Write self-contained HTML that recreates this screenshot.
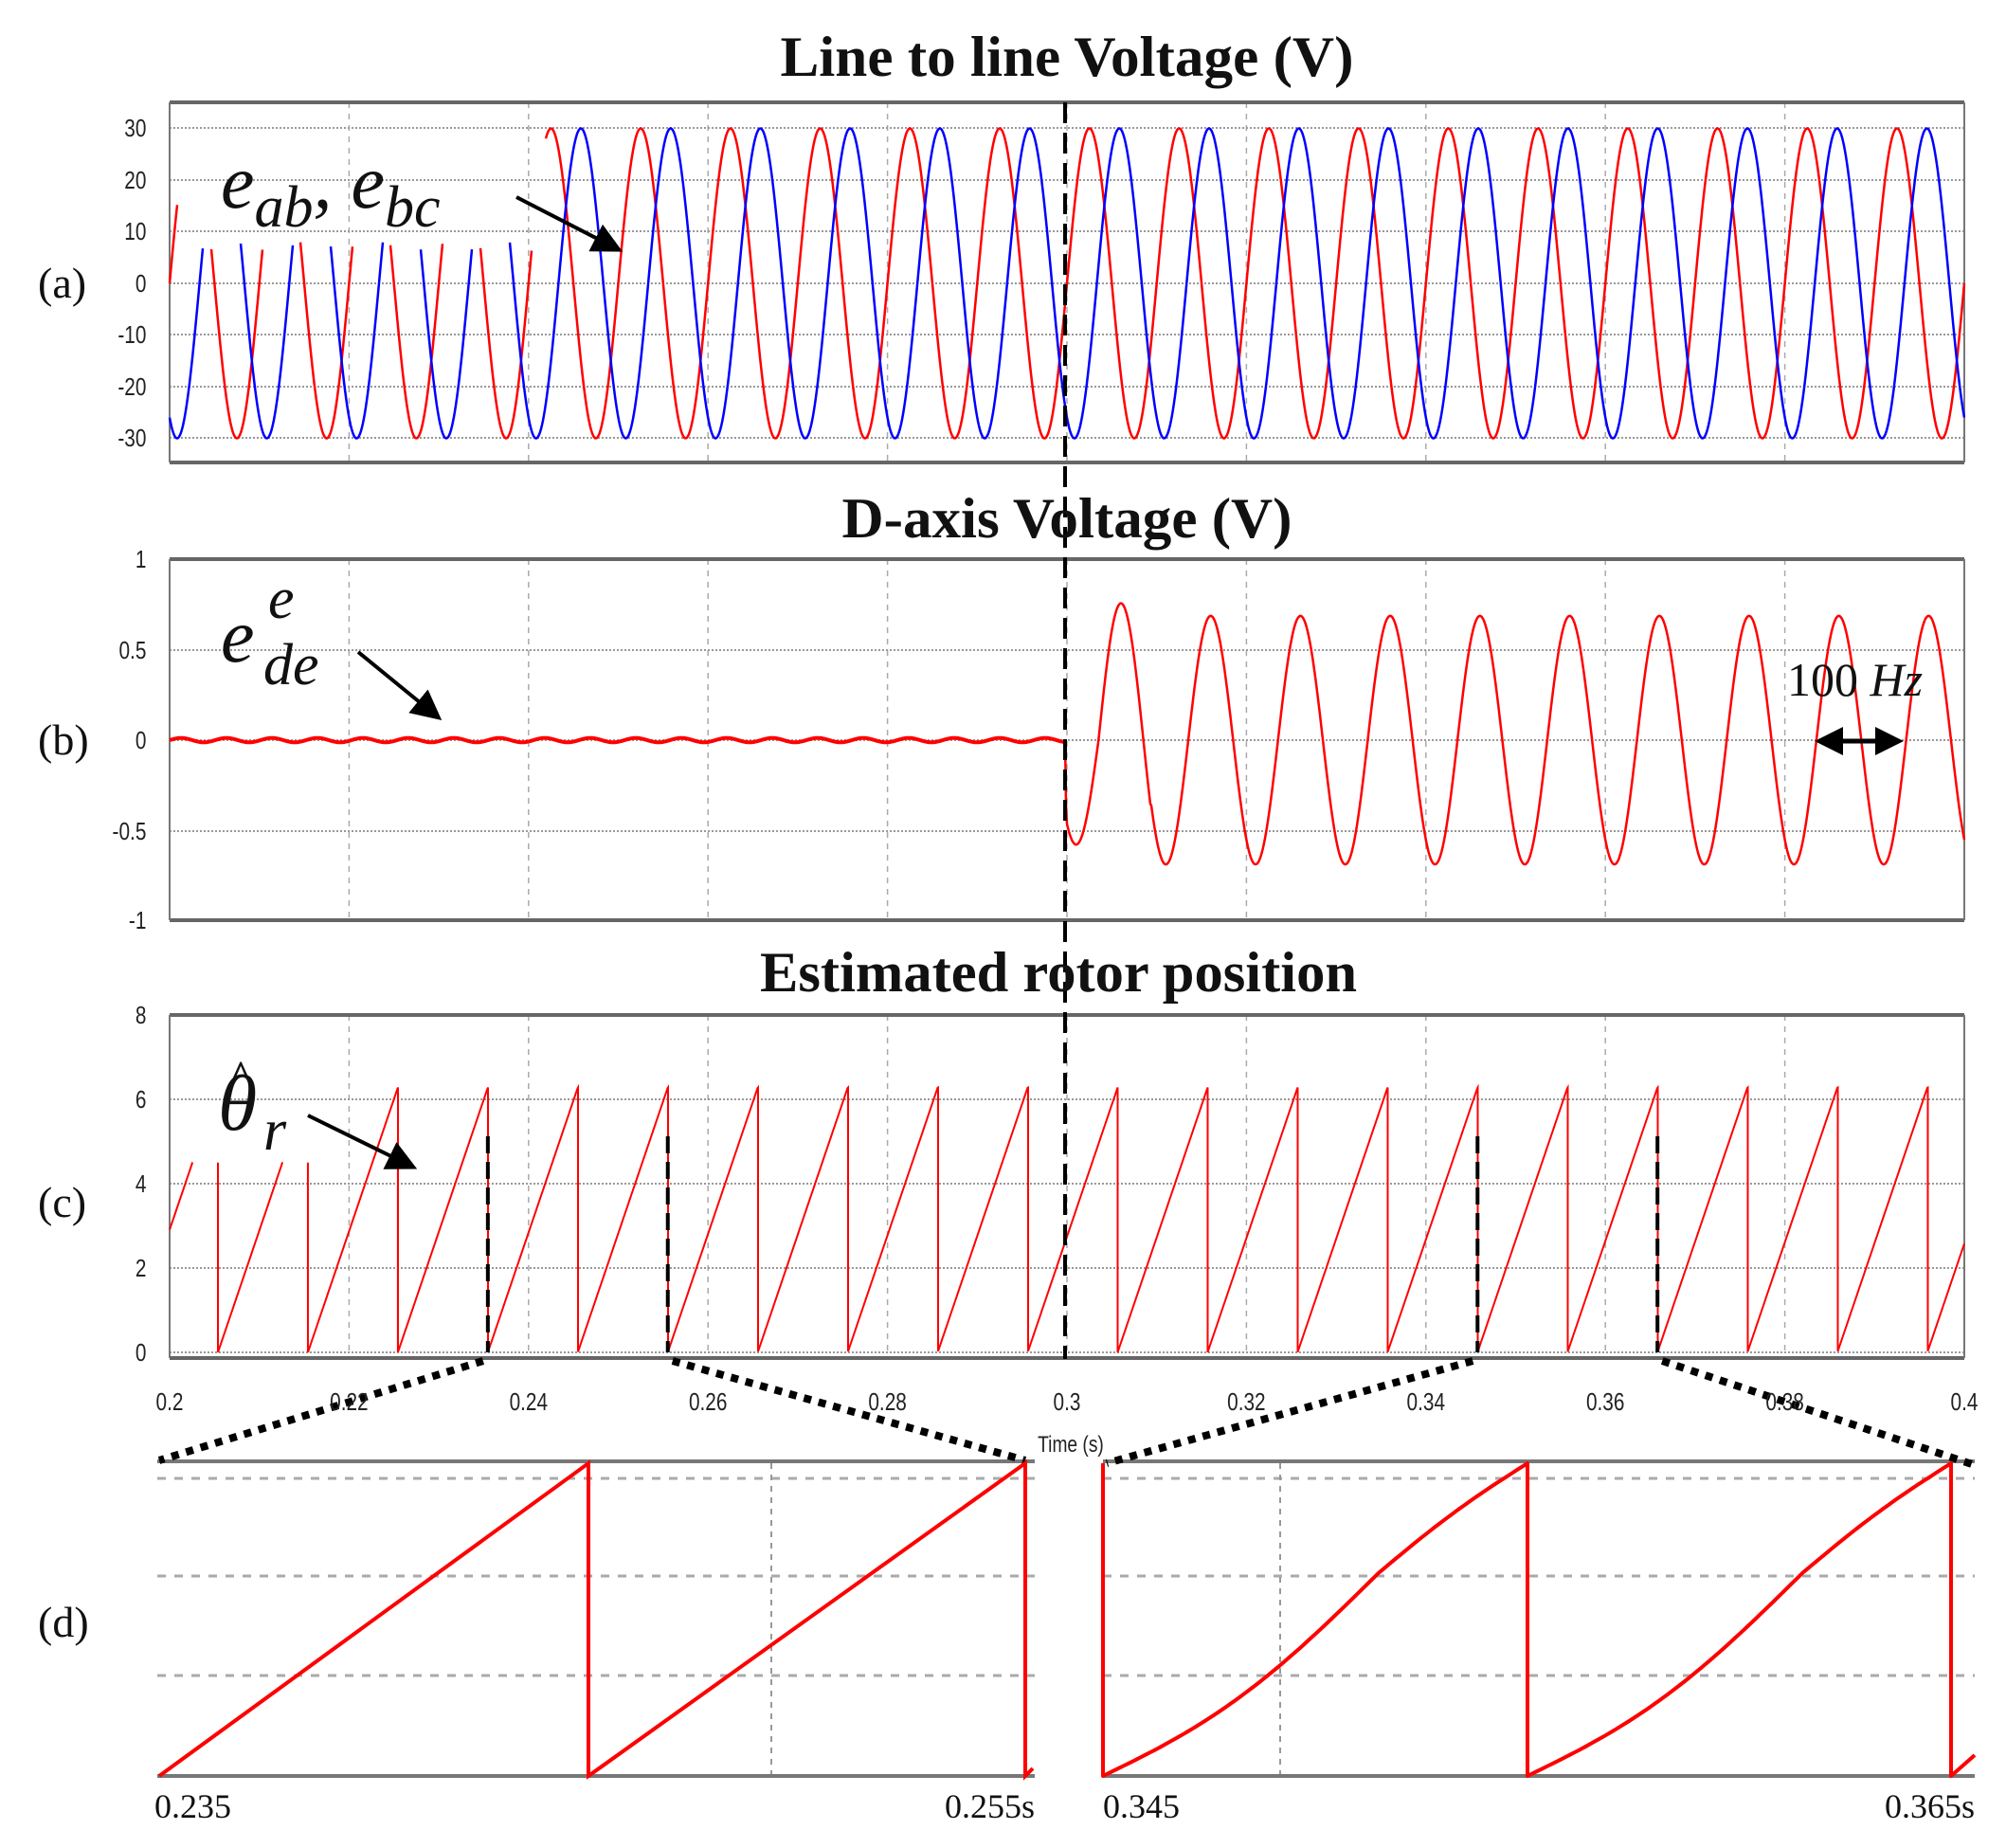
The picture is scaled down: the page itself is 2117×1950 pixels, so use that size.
<!DOCTYPE html>
<html><head><meta charset="utf-8">
<style>
html,body{margin:0;padding:0;background:#fff;}
svg{display:block;}
.tk{font-family:"Liberation Sans",sans-serif;font-size:26px;fill:#222;}
.ttl{font-family:"Liberation Serif",serif;font-weight:bold;font-size:60px;fill:#111;}
.lab{font-family:"Liberation Serif",serif;font-size:46px;fill:#111;}
.mth{font-family:"Liberation Serif",serif;font-style:italic;fill:#111;}
.dl{font-family:"Liberation Serif",serif;font-size:36px;fill:#111;}
</style></head>
<body>
<svg id="s" width="2117" height="1950" viewBox="0 0 2117 1950" xmlns="http://www.w3.org/2000/svg">
<defs>
<marker id="ah" markerWidth="8" markerHeight="8" refX="6" refY="4" orient="auto" markerUnits="strokeWidth"><path d="M0,0 L8,4 L0,8 z" fill="#000"/></marker>
<marker id="ah2" markerWidth="6" markerHeight="6" refX="5" refY="3" orient="auto-start-reverse" markerUnits="strokeWidth"><path d="M0,0 L6,3 L0,6 z" fill="#000"/></marker>
</defs>
<g id="grid"></g>
<g id="series"></g>
<text class="ttl" x="1126" y="80" text-anchor="middle" textLength="605" lengthAdjust="spacingAndGlyphs">Line to line Voltage (V)</text>
<text class="ttl" x="1126" y="567" text-anchor="middle" textLength="475" lengthAdjust="spacingAndGlyphs">D-axis Voltage (V)</text>
<text class="ttl" x="1117" y="1046" text-anchor="middle" textLength="630" lengthAdjust="spacingAndGlyphs">Estimated rotor position</text>
<text class="lab" x="40" y="314">(a)</text>
<text class="lab" x="40" y="796">(b)</text>
<text class="lab" x="40" y="1284">(c)</text>
<text class="lab" x="40" y="1727">(d)</text>
<g class="tk" text-anchor="end" transform="scale(0.8,1)">
<text x="193" y="144">30</text><text x="193" y="199">20</text><text x="193" y="253">10</text><text x="193" y="308">0</text>
<text x="193" y="362">-10</text><text x="193" y="417">-20</text><text x="193" y="471">-30</text>
<text x="193" y="599">1</text><text x="193" y="695">0.5</text><text x="193" y="790">0</text><text x="193" y="886">-0.5</text><text x="193" y="980">-1</text>
<text x="193" y="1080">8</text><text x="193" y="1169">6</text><text x="193" y="1258">4</text><text x="193" y="1347">2</text><text x="193" y="1436">0</text>
</g>
<g class="tk" text-anchor="middle" id="xt"></g>
<text class="tk" x="1130" y="1532" text-anchor="middle" style="font-size:24px" transform="translate(1130,0) scale(0.8,1) translate(-1130,0)">Time (s)</text>
<text class="mth" x="233" y="219" style="font-size:80px">e<tspan dy="20" style="font-size:62px">ab</tspan><tspan dy="-20" style="font-size:80px">, e</tspan><tspan dy="20" style="font-size:62px">bc</tspan></text>
<line x1="545" y1="208" x2="650" y2="262" stroke="#000" stroke-width="4" marker-end="url(#ah)"/>
<text class="mth" x="233" y="698" style="font-size:80px">e</text>
<text class="mth" x="283" y="652" style="font-size:62px">e</text>
<text class="mth" x="278" y="722" style="font-size:62px">de</text>
<line x1="378" y1="688" x2="460" y2="755" stroke="#000" stroke-width="4" marker-end="url(#ah)"/>
<text class="mth" x="230" y="1192" style="font-size:84px">θ</text>
<text x="240" y="1160" style="font-family:'Liberation Serif',serif;font-size:60px;fill:#111">^</text>
<text class="mth" x="278" y="1213" style="font-size:62px">r</text>
<line x1="325" y1="1177" x2="433" y2="1230" stroke="#000" stroke-width="4" marker-end="url(#ah)"/>
<text x="1886" y="734" style="font-family:'Liberation Serif',serif;font-size:50px;fill:#111">100 <tspan font-style="italic">Hz</tspan></text>
<line x1="1920" y1="782" x2="2004" y2="782" stroke="#000" stroke-width="5" marker-start="url(#ah2)" marker-end="url(#ah2)"/>
<text class="dl" x="163" y="1918">0.235</text>
<text class="dl" x="1092" y="1918" text-anchor="end">0.255s</text>
<text class="dl" x="1164" y="1918">0.345</text>
<text class="dl" x="2084" y="1918" text-anchor="end">0.365s</text>
</svg>
<script>
var NS="http://www.w3.org/2000/svg";
function el(p,t,a){var e=document.createElementNS(NS,t);for(var k in a)e.setAttribute(k,a[k]);p.appendChild(e);return e;}
var G=document.getElementById('grid'),S=document.getElementById('series'),XT=document.getElementById('xt');
var L=179,R=2073,dx=189.4;
function panel(top,bot,hy){
  for(var i=1;i<10;i++){var x=L+i*dx;el(G,'line',{x1:x,y1:top,x2:x,y2:bot,stroke:'#aaa','stroke-width':1.5,'stroke-dasharray':'6,6'});}
  hy.forEach(function(y){el(G,'line',{x1:L,y1:y,x2:R,y2:y,stroke:'#999','stroke-width':2,'stroke-dasharray':'2,2'});});
  el(G,'line',{x1:L,y1:top,x2:R,y2:top,stroke:'#666','stroke-width':4});
  el(G,'line',{x1:L,y1:bot,x2:R,y2:bot,stroke:'#666','stroke-width':4});
  el(G,'line',{x1:L,y1:top,x2:L,y2:bot,stroke:'#777','stroke-width':2});
  el(G,'line',{x1:R,y1:top,x2:R,y2:bot,stroke:'#777','stroke-width':2});
}
panel(108,488,[135,190,244,299,353,408,462]);
panel(590,971,[686,781,877]);
panel(1071,1433,[1160,1249,1338,1427]);
var xl=['0.2','0.22','0.24','0.26','0.28','0.3','0.32','0.34','0.36','0.38','0.4'];
xl.forEach(function(s,i){var x=L+i*dx;var t=el(XT,'text',{x:x,y:1488,transform:'translate('+x+',0) scale(0.8,1) translate('+(-x)+',0)'});t.textContent=s;});
var P=94.7;
function sinPath(ph,col){
  var d='',pen=false;
  for(var x=L;x<=R;x+=1){
    var v=30*Math.sin(2*Math.PI*(x-L)/P-ph);
    var ok=!(x<576&&v>8)||(ph==0&&x<188);
    if(ok){d+=(pen?'L':'M')+x+','+(299-v*5.45).toFixed(1);pen=true;}else pen=false;
  }
  el(S,'path',{d:d,fill:'none',stroke:col,'stroke-width':2.5});
}
sinPath(0,'#f00');sinPath(2*Math.PI/3,'#00f');
var d='';
for(var x=L;x<=1124;x+=1){var v=0.012*Math.sin(2*Math.PI*(x-L)/48);d+=(x==L?'M':'L')+x+','+(781-v*190).toFixed(1);}
el(S,'path',{d:d,fill:'none',stroke:'#f00','stroke-width':4});
d='M1124,781L1125,850';
for(var x=1126;x<=R;x+=1){var t=(x-1183)/94.7;var A=(x<1160)?0.58:(x<1215)?0.76:0.69;var v=A*Math.cos(2*Math.PI*t);d+='L'+x+','+(781-v*190).toFixed(1);}
el(S,'path',{d:d,fill:'none',stroke:'#f00','stroke-width':2.5});
var Pc=94.95,z=230;
d='';var pen=false,prev=null;
for(var x=L;x<=R;x+=0.5){
  var f=(x-z)/Pc;f=f-Math.floor(f);var v=6.28*f;
  var ok=!(x<326&&v>4.5);
  var y=(1427-v*44.5).toFixed(1);
  if(ok){ if(pen&&prev!==null&&v<prev-1){d+='L'+x+','+(1427-6.28*44.5).toFixed(1)+'L'+x+','+y;} else d+=(pen?'L':'M')+x+','+y; pen=true;}
  else { if(pen){d+='L'+x+','+(1427-4.5*44.5);} pen=false;}
  prev=v;
}
[z, z+Pc, z+2*Pc].forEach(function(x){d+='M'+x+','+(1427-4.5*44.5)+'L'+x+',1427';});
el(S,'path',{d:d,fill:'none',stroke:'#f00','stroke-width':2});
el(S,'line',{x1:1124,y1:108,x2:1124,y2:1434,stroke:'#000','stroke-width':4,'stroke-dasharray':'22,10'});
var wr=[z+3*Pc,z+5*Pc,z+14*Pc,z+16*Pc];
wr.forEach(function(x){el(S,'line',{x1:x,y1:1199,x2:x,y2:1427,stroke:'#000','stroke-width':4,'stroke-dasharray':'18,9'});});
function dot(x1,y1,x2,y2){el(S,'line',{x1:x1,y1:y1,x2:x2,y2:y2,stroke:'#000','stroke-width':8,'stroke-dasharray':'8,8'});}
dot(wr[0]-5,1436,168,1541);dot(wr[1]+5,1436,1082,1541);dot(wr[2]-5,1436,1168,1544);dot(wr[3]+5,1436,2084,1546);
function det(x0,x1,vx){
  [1560,1663,1768].forEach(function(y){el(G,'line',{x1:x0,y1:y,x2:x1,y2:y,stroke:'#aaa','stroke-width':3,'stroke-dasharray':'9,9'});});
  el(G,'line',{x1:vx,y1:1544,x2:vx,y2:1874,stroke:'#999','stroke-width':2,'stroke-dasharray':'6,6'});
  el(G,'line',{x1:x0,y1:1542,x2:x1,y2:1542,stroke:'#777','stroke-width':4});
  el(G,'line',{x1:x0,y1:1874,x2:x1,y2:1874,stroke:'#777','stroke-width':4});
}
det(166,1092,814);det(1164,2084,1351);
el(S,'path',{d:'M168,1874L621,1544L621,1874L1082,1544L1082,1874L1090,1866',fill:'none',stroke:'#f00','stroke-width':4});
function fu(u){var dd=(u<0.65)?-0.07*Math.sin(Math.PI*u/0.65):0.015*Math.sin(Math.PI*(u-0.65)/0.35);return u+dd;}
function sc(x0,x1){var s='';for(var k=0;k<=100;k++){var u=k/100;s+='L'+(x0+u*(x1-x0)).toFixed(1)+','+(1874-fu(u)*330).toFixed(1);}return s;}
el(S,'path',{d:'M1164,1544L1164,1874'+sc(1164,1612)+'L1612,1874'+sc(1612,2059)+'L2059,1874L2084,1852',fill:'none',stroke:'#f00','stroke-width':4,'stroke-linejoin':'round'});
</script>
</body></html>
